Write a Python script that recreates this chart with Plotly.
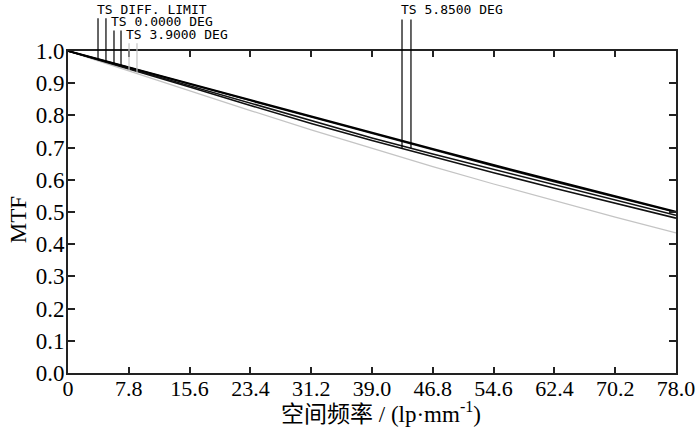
import numpy as np
import plotly.graph_objects as go

# Spatial frequency samples (lp/mm)
freq = [0, 7.8, 15.6, 23.4, 31.2, 39.0, 46.8, 54.6, 62.4, 70.2, 78.0]

# MTF values
diff_limit = [1.0, 0.949, 0.899, 0.848, 0.797, 0.746, 0.696, 0.646, 0.597, 0.548, 0.501]
deg_0 = [1.0, 0.948, 0.897, 0.846, 0.795, 0.744, 0.693, 0.643, 0.594, 0.546, 0.499]
deg_3_9 = [1.0, 0.938, 0.876, 0.815, 0.755, 0.697, 0.641, 0.587, 0.535, 0.484, 0.435]
deg_5_85_s = [1.0, 0.946, 0.891, 0.836, 0.782, 0.730, 0.680, 0.632, 0.584, 0.537, 0.490]
deg_5_85_t = [1.0, 0.945, 0.888, 0.831, 0.775, 0.722, 0.671, 0.622, 0.574, 0.527, 0.481]

x_tickvals = [0, 7.8, 15.6, 23.4, 31.2, 39.0, 46.8, 54.6, 62.4, 70.2, 78.0]
x_ticktext = ["0", "7.8", "15.6", "23.4", "31.2", "39.0", "46.8", "54.6", "62.4", "70.2", "78.0"]
y_tickvals = [0.0, 0.1, 0.2, 0.3, 0.4, 0.5, 0.6, 0.7, 0.8, 0.9, 1.0]
y_ticktext = ["0.0", "0.1", "0.2", "0.3", "0.4", "0.5", "0.6", "0.7", "0.8", "0.9", "1.0"]

x_title = "空间频率 / (lp·mm<sup>-1</sup>)"
y_title = "MTF"

# Curve labels: text, label x (data), label y (paper), leader x positions, leader top, curves, colour
labels = [
    ("TS DIFF. LIMIT", 3.5, 1.130, [3.85, 4.87], 1.102, [diff_limit, diff_limit], "black"),
    ("TS 0.0000 DEG", 5.3, 1.092, [5.9, 6.8], 1.064, [deg_0, deg_0], "black"),
    ("TS 3.9000 DEG", 7.2, 1.052, [7.83, 8.85], 1.024, [deg_3_9, deg_3_9], "#c4c4c4"),
    ("TS 5.8500 DEG", 42.5, 1.128, [42.85, 44.0], 1.098, [deg_5_85_t, deg_5_85_s], "black"),
]

fig = go.Figure()

series = [
    (deg_3_9, "#c4c4c4", 1.2),
    (deg_5_85_t, "#111111", 1.6),
    (deg_5_85_s, "#111111", 1.6),
    (deg_0, "#111111", 1.6),
    (diff_limit, "#000000", 2.0),
]
for ys, col, w in series:
    fig.add_trace(go.Scatter(x=freq, y=ys, mode="lines",
                             line=dict(color=col, width=w), showlegend=False,
                             hoverinfo="skip"))

shapes = []
annotations = []
for text, lx, ly, xs, top, curves, col in labels:
    for xv, cv in zip(xs, curves):
        bottom = float(np.interp(xv, freq, cv))
        shapes.append(dict(type="line", xref="x", yref="paper",
                           x0=xv, x1=xv, y0=bottom, y1=top,
                           line=dict(color=col, width=1.2)))
    annotations.append(dict(text=text, x=lx, y=ly, xref="x", yref="paper",
                            xanchor="left", yanchor="middle", showarrow=False,
                            font=dict(family="DejaVu Sans Mono", size=13, color="black")))

# Axis titles placed as annotations for exact positioning
annotations.append(dict(text=x_title, x=0.515, y=-0.124, xref="paper", yref="paper",
                        xanchor="center", yanchor="middle", showarrow=False,
                        font=dict(family="Liberation Serif, Noto Sans CJK SC", size=23, color="black")))
annotations.append(dict(text=y_title, x=-0.082, y=0.475, xref="paper", yref="paper",
                        xanchor="center", yanchor="middle", showarrow=False, textangle=-90,
                        font=dict(family="Liberation Serif", size=23, color="black")))

fig.update_layout(
    width=700, height=438,
    margin=dict(l=68, r=24, t=51, b=65, autoexpand=False),
    paper_bgcolor="white", plot_bgcolor="white",
    shapes=shapes, annotations=annotations,
    xaxis=dict(range=[0, 78], tickvals=x_tickvals, ticktext=x_ticktext,
               automargin=False, ticklabelstandoff=-5,
               showgrid=False, zeroline=False, showline=True, linecolor="#222222",
               linewidth=2, mirror="ticks", ticks="inside", ticklen=6,
               tickcolor="#222222", tickwidth=1.5,
               tickfont=dict(family="Liberation Serif", size=22, color="black")),
    yaxis=dict(range=[0, 1], tickvals=y_tickvals, ticktext=y_ticktext,
               automargin=False, ticklabelstandoff=-3,
               showgrid=False, zeroline=False, showline=True, linecolor="#222222",
               linewidth=2, mirror="ticks", ticks="inside", ticklen=7,
               tickcolor="#222222", tickwidth=1.5,
               tickfont=dict(family="Liberation Serif", size=23, color="black")),
)

fig.write_html("out.html", config={"displayModeBar": False},
               post_script="document.body.style.margin='0px';")
